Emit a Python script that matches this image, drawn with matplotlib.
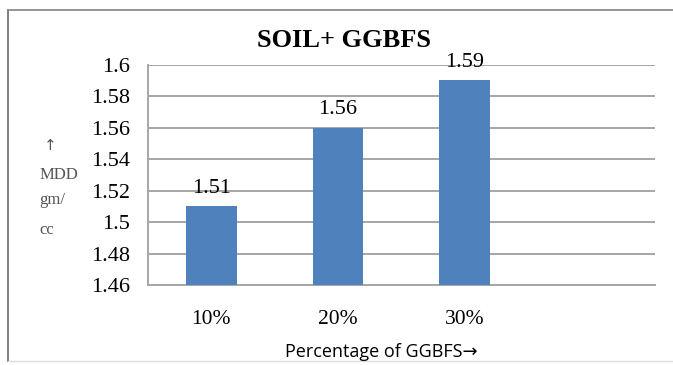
import matplotlib.pyplot as plt
from matplotlib.lines import Line2D

categories = ['10%', '20%', '30%', '']
mdd = [1.51, 1.56, 1.59, None]
yticks = [1.46, 1.48, 1.5, 1.52, 1.54, 1.56, 1.58, 1.6]
ytick_labels = ['1.46', '1.48', '1.5', '1.52', '1.54', '1.56', '1.58', '1.6']

BAR_COLOUR = '#4F81BD'
GRID_COLOUR = '#A6A6A6'
SERIF = 'Liberation Serif'


def main():
    fig = plt.figure(figsize=(6.73, 3.65), dpi=100)
    ax = fig.add_axes([0.22, 0.219, 0.753, 0.604])

    # only the filled categories get a bar, the last slot stays empty
    xs = [i for i, v in enumerate(mdd) if v is not None]
    vals = [v for v in mdd if v is not None]
    bars = ax.bar(xs, [v - yticks[0] for v in vals], bottom=yticks[0],
                  width=0.4, color=BAR_COLOUR, zorder=3)
    for b, v in zip(bars, vals):
        ax.text(b.get_x() + b.get_width() / 2, v + 0.0055, '%.2f' % v,
                ha='center', va='bottom', fontsize=16, family=SERIF)

    ax.set_xlim(-0.5, len(categories) - 0.5)
    ax.set_ylim(yticks[0], yticks[-1])
    ax.set_yticks(yticks)
    ax.set_yticklabels(ytick_labels, family=SERIF, fontsize=16)
    ax.set_xticks(xs)
    ax.set_xticklabels(categories[:len(xs)], family=SERIF, fontsize=15.5)
    ax.tick_params(axis='both', length=0)
    ax.tick_params(axis='y', pad=13)
    ax.tick_params(axis='x', pad=18)
    ax.yaxis.grid(True, color=GRID_COLOUR, linewidth=1.4, zorder=0)
    ax.set_axisbelow(True)
    for side in ['top', 'right']:
        ax.spines[side].set_visible(False)
    ax.spines['left'].set_color(GRID_COLOUR)
    ax.spines['bottom'].set_color(GRID_COLOUR)
    ax.spines['left'].set_linewidth(1.4)
    ax.spines['bottom'].set_linewidth(1.4)

    fig.text(0.511, 0.89, 'SOIL+ GGBFS', ha='center', va='center',
             fontsize=19, fontweight='bold', family=SERIF)
    fig.text(0.567, 0.035, 'Percentage of GGBFS\u2192', ha='center',
             va='center', fontsize=13, family=['Open Sans', 'DejaVu Sans'])

    # stacked axis caption on the left
    ylab_colour = '#555555'
    fig.text(0.074, 0.6, '\u2191', ha='center', va='center', fontsize=11,
             color=ylab_colour, family='DejaVu Sans')
    for txt, y in [('MDD', 0.52), ('gm/', 0.452), ('cc', 0.37)]:
        fig.text(0.058, y, txt, ha='left', va='center', fontsize=12,
                 color=ylab_colour, family=SERIF)

    # outer chart frame: left, top and a faint bottom edge
    fig.add_artist(Line2D([0.012, 0.012], [0.01, 0.972], color='#7F7F7F',
                          linewidth=1.4, transform=fig.transFigure))
    fig.add_artist(Line2D([0.012, 1.0], [0.972, 0.972], color='#8C8C8C',
                          linewidth=1.3, transform=fig.transFigure))
    fig.add_artist(Line2D([0.012, 1.0], [0.01, 0.01], color='#DDDDDD',
                          linewidth=1.0, transform=fig.transFigure))

    fig.savefig('out.png', dpi=100)


if __name__ == '__main__':
    main()
